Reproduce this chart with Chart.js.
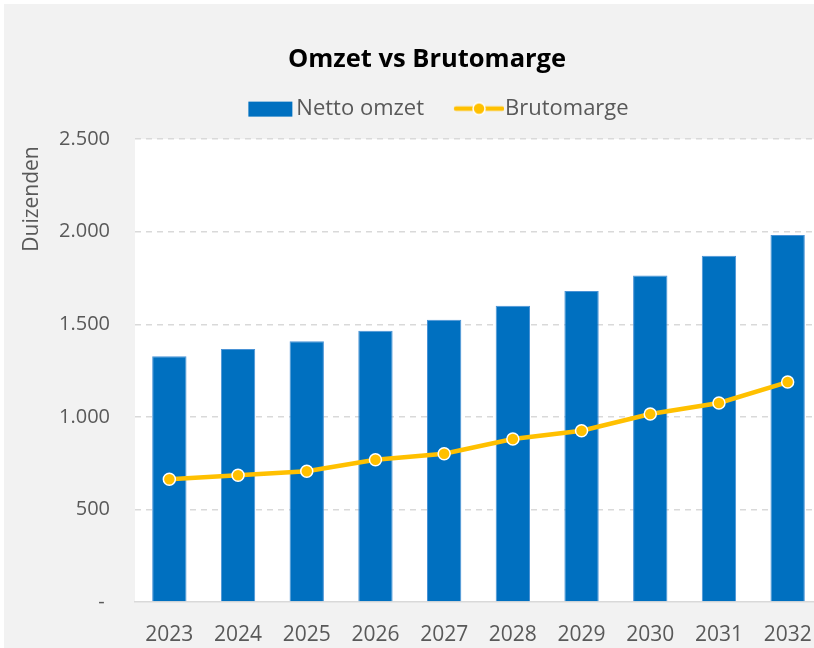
<!DOCTYPE html>
<html lang="nl">
<head>
<meta charset="utf-8">
<title>Omzet vs Brutomarge</title>
<script src="https://cdn.jsdelivr.net/npm/chart.js@4/dist/chart.umd.min.js"></script>
<style>
    html, body {
        margin: 0;
        padding: 0;
        background: #ffffff;
        overflow: hidden;
        width: 814px;
        height: 648px;
    }
    #wrap {
        position: absolute;
        left: 4px;
        top: 4px;
        width: 846px;
        height: 644px;
        background: #f2f2f2;
    }
    #grafica {
        display: block;
    }
</style>
</head>
<body>
<div id="wrap"><canvas id="grafica" width="846" height="644"></canvas></div>
<script>
"use strict";

const jaren = ["2023", "2024", "2025", "2026", "2027", "2028", "2029", "2030", "2031", "2032"];
const nettoOmzet = [1327, 1366, 1408, 1465, 1524, 1600, 1679, 1764, 1870, 1982];
const brutomarge = [663, 685, 706, 768, 801, 880, 925, 1015, 1075, 1188];
const yTicks = [0, 500, 1000, 1500, 2000, 2500];

const BLAUW = "#0070c0";
const GEEL = "#ffc000";
const GRIJS_TEKST = "#595959";
const FONT = "'Open Sans', 'Noto Sans', sans-serif";

document.addEventListener("DOMContentLoaded", () => {
    const canvas = document.querySelector("#grafica");

    /**
     * Legend symbols (box and line with marker) as small canvases
     */
    function legendSymbol(kind) {
        const c = document.createElement("canvas");
        c.width = 80;
        c.height = 20;
        const g = c.getContext("2d");
        if (kind === "bar") {
            g.fillStyle = BLAUW;
            g.fillRect(33, 3, 44, 15);
        } else {
            g.strokeStyle = GEEL;
            g.lineWidth = 4.5;
            g.lineCap = "round";
            g.beginPath();
            g.moveTo(32, 10);
            g.lineTo(78, 10);
            g.stroke();
            g.beginPath();
            g.arc(55, 10, 6, 0, Math.PI * 2);
            g.fillStyle = GEEL;
            g.fill();
            g.lineWidth = 1.5;
            g.strokeStyle = "#ffffff";
            g.stroke();
        }
        return c;
    }

    const symbolBar = legendSymbol("bar");
    const symbolLine = legendSymbol("line");

    const formatNl = (v) =>
        v === 0 ? "- " : String(v).replace(/\B(?=(\d{3})+(?!\d))/g, ".");

    /**
     * White plot area + axis title "Duizenden" near the top
     */
    const plotAchtergrond = {
        id: "plotAchtergrond",
        beforeInit(chart) {
            const fit = chart.legend.fit;
            chart.legend.fit = function () {
                fit.bind(chart.legend)();
                this.height += 9.5;
            };
        },
        beforeDraw(chart) {
            const { ctx, chartArea } = chart;
            ctx.save();
            ctx.fillStyle = "#ffffff";
            ctx.fillRect(
                chartArea.left,
                chartArea.top,
                chartArea.right - chartArea.left,
                chartArea.bottom - chartArea.top
            );
            ctx.restore();
        },
        afterDraw(chart) {
            const { ctx } = chart;
            ctx.save();
            ctx.translate(28, 195);
            ctx.rotate(-Math.PI / 2);
            ctx.font = "21px " + FONT;
            ctx.fillStyle = GRIJS_TEKST;
            ctx.textAlign = "center";
            ctx.textBaseline = "middle";
            ctx.fillText("Duizenden", 0, 0);
            ctx.restore();
        },
    };

    new Chart(canvas, {
        data: {
            labels: jaren,
            datasets: [
                {
                    type: "bar",
                    label: "Netto omzet",
                    data: nettoOmzet,
                    backgroundColor: BLAUW,
                    borderColor: "#4a93d6",
                    borderWidth: 1,
                    barPercentage: 1,
                    categoryPercentage: 0.5,
                    order: 2,
                },
                {
                    type: "line",
                    label: "Brutomarge",
                    data: brutomarge,
                    borderColor: GEEL,
                    backgroundColor: GEEL,
                    borderWidth: 4.5,
                    pointRadius: 6,
                    pointBackgroundColor: GEEL,
                    pointBorderColor: "#ffffff",
                    pointBorderWidth: 1.5,
                    tension: 0,
                    order: 1,
                },
            ],
        },
        options: {
            responsive: false,
            animation: false,
            devicePixelRatio: 1,
            layout: {
                padding: { left: 0, right: 0, top: 0, bottom: 0 },
            },
            plugins: {
                title: {
                    display: true,
                    text: "Omzet vs Brutomarge",
                    color: "#000000",
                    font: { family: FONT, size: 25.5, weight: "bold" },
                    padding: { top: 40, bottom: 13 },
                },
                legend: {
                    display: true,
                    position: "top",
                    labels: {
                        usePointStyle: true,
                        pointStyleWidth: 60,
                        padding: 10,
                        color: GRIJS_TEKST,
                        font: { family: FONT, size: 22 },
                        generateLabels: () => [
                            {
                                text: "Netto omzet",
                                pointStyle: symbolBar,
                                fillStyle: BLAUW,
                                strokeStyle: BLAUW,
                                lineWidth: 0,
                                hidden: false,
                                datasetIndex: 0,
                                fontColor: GRIJS_TEKST,
                            },
                            {
                                text: "Brutomarge",
                                pointStyle: symbolLine,
                                fillStyle: GEEL,
                                strokeStyle: GEEL,
                                lineWidth: 0,
                                hidden: false,
                                datasetIndex: 1,
                                fontColor: GRIJS_TEKST,
                            },
                        ],
                    },
                },
                tooltip: { enabled: false },
            },
            scales: {
                x: {
                    offset: true,
                    grid: { display: false, drawTicks: false },
                    border: { display: true, color: "#d9d9d9", width: 1.5 },
                    afterFit: (scale) => {
                        scale.height = 46;
                    },
                    ticks: {
                        color: GRIJS_TEKST,
                        font: { family: FONT, size: 21 },
                        padding: 20,
                        maxRotation: 0,
                    },
                },
                y: {
                    min: 0,
                    max: 2500,
                    afterBuildTicks: (scale) => {
                        scale.ticks = yTicks.map((v) => ({ value: v }));
                    },
                    afterFit: (scale) => {
                        scale.width = 131;
                    },
                    grid: {
                        drawTicks: false,
                        lineWidth: 1.5,
                        color: (ctx) =>
                            ctx.tick && ctx.tick.value === 0 ? "rgba(0,0,0,0)" : "#d9d9d9",
                    },
                    border: { display: false, dash: [6, 5] },
                    ticks: {
                        color: GRIJS_TEKST,
                        font: { family: FONT, size: 20 },
                        padding: 25,
                        callback: (v) => formatNl(v),
                    },
                },
                rechts: {
                    position: "right",
                    display: true,
                    grid: { display: false, drawTicks: false },
                    border: { display: false },
                    ticks: { display: false },
                    afterFit: (scale) => {
                        scale.width = 28;
                    },
                },
            },
        },
        plugins: [plotAchtergrond],
    });
});
</script>
</body>
</html>
